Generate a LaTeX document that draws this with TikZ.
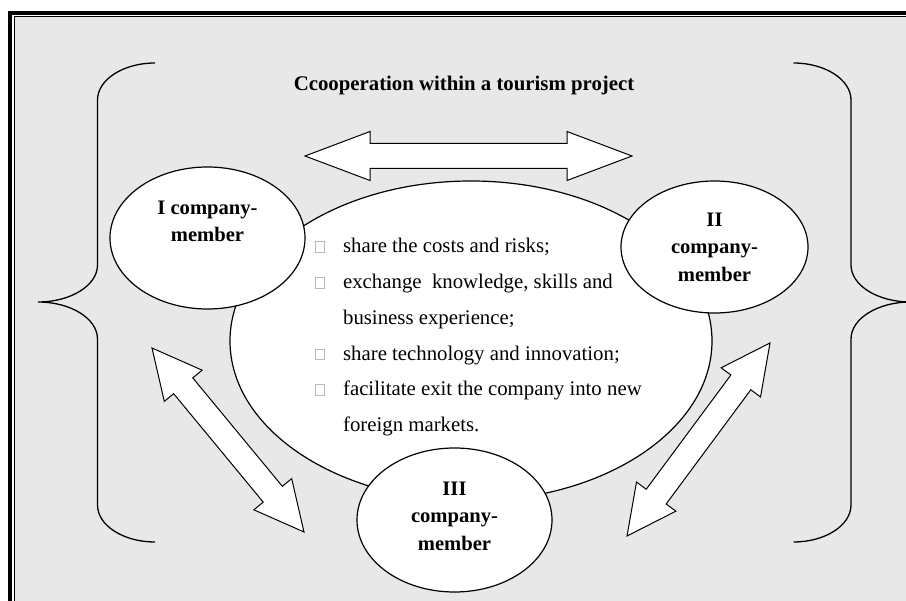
\documentclass[tikz,border=0pt]{standalone}
\usepackage{fontspec}
\setmainfont{Liberation Serif}
\usetikzlibrary{shapes.geometric,calc}
\definecolor{sheetgray}{RGB}{232,232,232}
\definecolor{boxgray}{RGB}{185,185,185}
\tikzset{
	member/.style={ellipse, draw, line width=1.2pt, fill=white, inner sep=0pt, align=center, font=\fontsize{20.6}{27.5}\selectfont\bfseries}, % the three company ellipses
	brace/.style={line width=1.3pt}, % the big curly brackets
	fatarrow/.style={draw, line width=1pt, fill=white, line join=miter}, % hollow two-way arrows
}
% hollow two-way arrow between two named points: head length, head half width, shaft half width
\newcommand{\twoway}[5]{%
	\draw[fatarrow] let \p1=(#1), \p2=(#2), \n1={atan2(\y2-\y1,\x2-\x1)}, \n2={veclen(\x2-\x1,\y2-\y1)} in
		[shift={(\p1)}, rotate=\n1]
		(0pt,0pt) -- (#3pt,#4pt) -- (#3pt,#5pt) -- ({\n2*1pt-#3pt},#5pt) -- ({\n2*1pt-#3pt},#4pt) -- ({\n2*1pt},0pt)
		-- ({\n2*1pt-#3pt},-#4pt) -- ({\n2*1pt-#3pt},-#5pt) -- (#3pt,-#5pt) -- (#3pt,-#4pt) -- cycle;
}
\newcommand{\sqbullet}{\tikz\draw[boxgray, line width=0.9pt] (0pt,0pt) rectangle (9pt,10.5pt);}

\begin{document}
\begin{tikzpicture}[x=1pt, y=-1pt]
	\useasboundingbox (0,0) rectangle (906,601);
	\clip (0,0) rectangle (906,601);
	% sheet and double frame
	\fill[sheetgray] (15,17) rectangle (920,620);
	\draw[line width=3.5pt] (10,620) -- (10,13) -- (920,13);
	\draw[line width=1.2pt] (14.2,620) -- (14.2,16.5) -- (920,16.5);

	% braces
	\draw[brace] (155,63) .. controls (123.3,63) and (97.5,79.6) .. (97.5,100) -- (97.5,265)
		.. controls (97.5,285.4) and (70.8,302) .. (38,302)
		.. controls (70.8,302) and (97.5,318.6) .. (97.5,339) -- (97.5,505)
		.. controls (97.5,525.4) and (123.3,542) .. (155,542);
	\draw[brace] (793.5,63) .. controls (825.2,63) and (851,79.6) .. (851,100) -- (851,265)
		.. controls (851,285.4) and (877.7,302) .. (910.5,302)
		.. controls (877.7,302) and (851,318.6) .. (851,339) -- (851,505)
		.. controls (851,525.4) and (825.2,542) .. (793.5,542);

	\node[font=\fontsize{20.8}{25}\selectfont\bfseries, anchor=base] (title) at (464,91) {Ccooperation within a tourism project};

	\coordinate (h-left) at (305,156);
	\coordinate (h-right) at (632,156);
	\twoway{h-left}{h-right}{65}{24.5}{12.5}

	\node[ellipse, draw, line width=1.2pt, fill=white, minimum width=482pt, minimum height=320pt] (project) at (471,341) {};
	\node[anchor=base west, inner sep=0pt, font=\fontsize{20.8}{35.8}\selectfont] (tasks) at (315,252.7) {%
		\begin{tabular}[t]{@{}l@{\hspace{18pt}}l@{}}
			\sqbullet & share the costs and risks;\\
			\sqbullet & exchange~ knowledge, skills and\\
			& business experience;\\
			\sqbullet & share technology and innovation;\\
			\sqbullet & facilitate exit the company into new\\
			& foreign markets.
		\end{tabular}};

	\node[member, minimum width=195pt, minimum height=142pt] (m1) at (207.5,238) {I company-\\member\\[6pt]\mbox{}};
	\node[member, minimum width=187pt, minimum height=132pt] (m2) at (714.5,247) {II\\company-\\member};
	\node[member, minimum width=195pt, minimum height=144pt] (m3) at (454.5,520) {III\\company-\\member\\[-19.5pt]\mbox{}};

	\coordinate (l-up) at (152,348);
	\coordinate (l-down) at (304,532);
	\coordinate (r-up) at (770,343);
	\coordinate (r-down) at (627,536);
	\twoway{l-up}{l-down}{49}{24.5}{12.4}
	\twoway{r-up}{r-down}{49}{24.5}{12.4}
\end{tikzpicture}
\end{document}
